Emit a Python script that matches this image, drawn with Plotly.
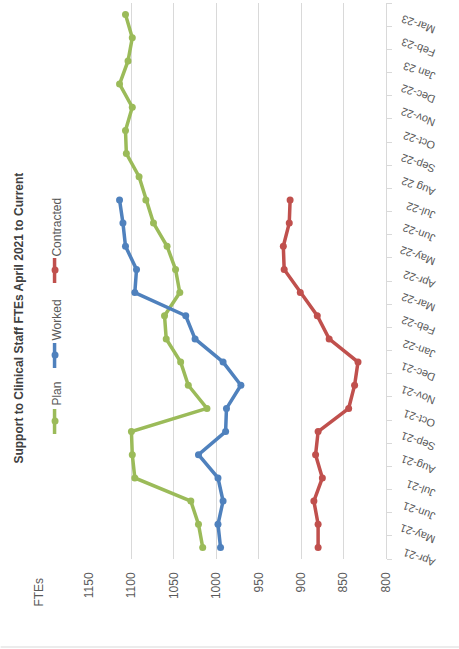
import plotly.graph_objects as go

# Monthly FTE figures, April 2021 onwards
months = ["Apr-21", "May-21", "Jun-21", "Jul-21", "Aug-21", "Sep-21", "Oct-21",
          "Nov-21", "Dec-21", "Jan-22", "Feb-22", "Mar-22", "Apr-22", "May-22",
          "Jun-22", "Jul-22", "Aug 22", "Sep-22", "Oct-22", "Nov-22", "Dec-22",
          "Jan 23", "Feb-23", "Mar-23"]

plan = [1016, 1021, 1030, 1096, 1099, 1100, 1011, 1033, 1042, 1059, 1061, 1043,
        1048, 1058, 1074, 1083, 1091, 1106, 1107, 1099, 1114, 1104, 1099, 1107]

worked = [995, 998, 992, 998, 1021, 989, 988, 971, 992, 1025, 1036, 1096,
          1094, 1107, 1110, 1114]

contracted = [880, 880, 885, 875, 883, 880, 844, 837, 833, 867, 881, 901,
              920, 921, 914, 913]

value_ticks = [800, 850, 900, 950, 1000, 1050, 1100, 1150]

series = [
    ("Plan", plan, "#9BBB59"),
    ("Worked", worked, "#4F81BD"),
    ("Contracted", contracted, "#C0504D"),
]

W, H = 459, 649
ML, MR, MT, MB = 88.5, 73, 3, 90
PW, PH = W - ML - MR, H - MT - MB


def px(x):
    return (x - ML) / PW


def py(y):
    return (H - MB - y) / PH


GREY_TXT = "#595959"
FONT = "Liberation Sans, Arial, sans-serif"

fig = go.Figure()
for name, vals, col in series:
    fig.add_trace(go.Scatter(
        x=vals, y=months[:len(vals)], mode="lines+markers", name=name,
        line=dict(color=col, width=3.5),
        marker=dict(color=col, size=7, symbol="circle"),
        showlegend=False,
    ))

fig.update_xaxes(
    range=[1150, 800], tickvals=value_ticks, tickangle=-90,
    showgrid=True, gridcolor="#d9d9d9", gridwidth=1,
    zeroline=False, showline=False, ticks="",
    tickfont=dict(family=FONT, size=12, color=GREY_TXT),
    ticklabelstandoff=10,
)
fig.update_yaxes(
    type="category", categoryarray=months, categoryorder="array",
    range=[-0.5, len(months) - 0.5], side="right",
    showgrid=False, showline=True, linecolor="#d9d9d9", linewidth=1,
    ticks="outside", ticklen=5, tickcolor="#d9d9d9", tickson="boundaries",
    tickangle=-160, tickfont=dict(family=FONT, size=11, color=GREY_TXT),
    ticklabelstandoff=45, ticklabelshift=19,
)

annotations = [
    dict(text="<b>Support to Clinical Staff FTEs April 2021 to Current</b>",
         x=px(18), y=py(318), textangle=-90,
         font=dict(family=FONT, size=12, color="#404040")),
    dict(text="FTEs", x=px(38), y=py(592), textangle=-90,
         font=dict(family=FONT, size=12, color=GREY_TXT)),
]

# Legend, laid out along the left edge
legend_items = [("Plan", 394, 421, "#9BBB59"),
                ("Worked", 320, 355, "#4F81BD"),
                ("Contracted", 227, 270, "#C0504D")]
shapes = []
for name, text_y, sym_y, col in legend_items:
    annotations.append(dict(text=name, x=px(56), y=py(text_y), textangle=-90,
                            font=dict(family=FONT, size=12, color=GREY_TXT)))
    shapes.append(dict(type="line", xref="paper", yref="paper",
                       x0=px(54), x1=px(54), y0=py(sym_y - 12), y1=py(sym_y + 13),
                       line=dict(color=col, width=3.5)))
    shapes.append(dict(type="circle", xref="paper", yref="paper",
                       x0=px(51), x1=px(58), y0=py(sym_y - 3.5), y1=py(sym_y + 3.5),
                       fillcolor=col, line=dict(color=col, width=0)))

for a in annotations:
    a.update(xref="paper", yref="paper", showarrow=False,
             xanchor="center", yanchor="middle")

shapes.append(dict(type="line", xref="paper", yref="paper",
                   x0=px(0), x1=px(W), y0=py(647), y1=py(647),
                   line=dict(color="#d9d9d9", width=1)))

fig.update_layout(
    width=W, height=H,
    margin=dict(l=ML, r=MR, t=MT, b=MB, pad=0),
    paper_bgcolor="white", plot_bgcolor="white",
    annotations=annotations, shapes=shapes,
    font=dict(family=FONT),
)

fig.write_html("out.html")
